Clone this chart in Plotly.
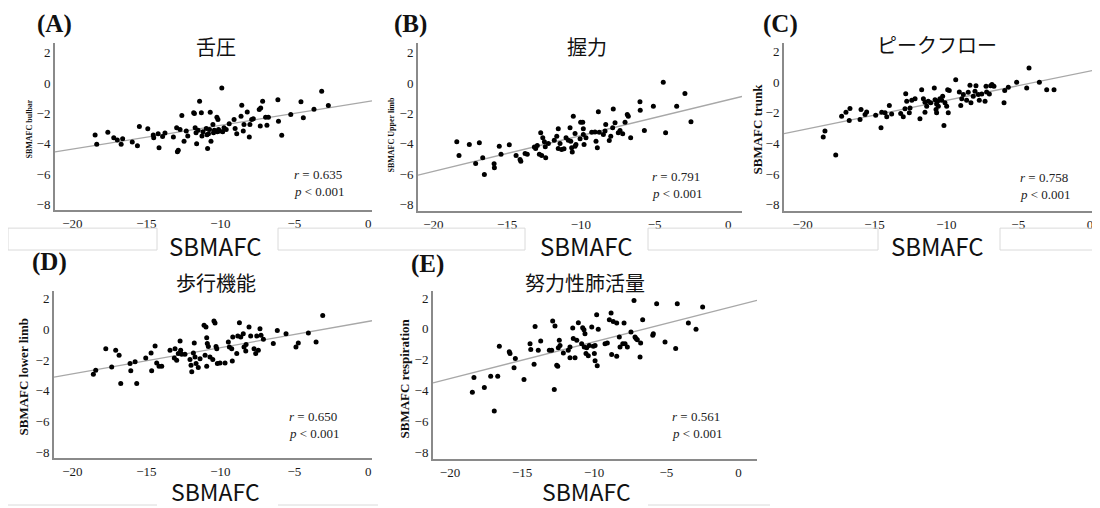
import plotly.graph_objects as go

# page body has an 8px margin; the figure is shrunk/shifted so page pixels match the reference
OFF = 8
W, H = 1100 - OFF, 508 - OFF

# ---------------- data ----------------
A_pts = [(-18.46,-3.42),(-18.35,-4.03),(-17.6,-3.23),(-17.2,-3.6),(-16.96,-3.75),(-16.7,-4.03),
         (-16.6,-3.66),(-15.95,-3.88),(-15.6,-4.12),(-15.47,-2.86),(-14.9,-3.0),(-14.53,-3.42),
         (-14.5,-3.6),(-14.2,-3.33),(-14.14,-4.25),(-13.9,-3.51),(-13.74,-3.29),(-13.17,-3.55),
         (-12.95,-2.94),(-12.9,-4.51),(-12.84,-4.42),(-12.72,-3.05),(-12.6,-2.14),(-12.45,-3.82),
         (-12.3,-3.16),(-12.2,-3.49),(-11.8,-1.96),(-11.75,-2.0),(-11.7,-2.94),(-11.64,-3.27),
         (-11.6,-3.99),(-11.4,-1.2),(-11.28,-1.96),(-11.24,-3.49),(-11.17,-3.2),(-10.95,-2.99),
         (-10.86,-4.31),(-10.8,-3.33),(-10.73,-3.05),(-10.68,-1.92),(-10.63,-3.82),(-10.5,-2.73),
         (-10.46,-3.27),(-10.23,-2.25),(-10.16,-2.4),(-10.12,-3.05),(-10.05,-3.16),(-9.9,-0.33),
         (-9.84,-3.2),(-9.75,-2.94),(-9.4,-2.68),(-9.07,-2.4),(-9.0,-2.99),(-8.89,-3.33),
         (-8.6,-2.18),(-8.55,-1.46),(-8.45,-3.16),(-8.4,-2.73),(-8.18,-1.9),(-8.04,-3.55),
         (-8.0,-2.73),(-7.88,-2.4),(-7.77,-2.35),(-7.37,-1.75),(-7.27,-1.64),(-7.14,-1.2),
         (-7.3,-2.83),(-6.94,-2.25),(-6.85,-2.77),(-6.75,-2.25),(-6.11,-1.11),(-6.07,-2.51),
         (-5.85,-3.44),(-5.24,-2.07),(-4.55,-1.24),(-4.39,-2.29),(-3.67,-1.73),(-3.15,-0.55),
         (-2.7,-1.48),(-10.4,-3.1),(-10.9,-3.4),(-11.5,-3.1),(-9.6,-3.05),(-10.2,-3.2)]

B_pts = [(-18.41,-3.87),(-18.26,-4.77),(-17.56,-4.05),(-16.88,-3.94),(-17.13,-5.3),(-16.65,-4.92),
         (-16.54,-6.02),(-15.88,-5.31),(-15.86,-5.58),(-15.53,-4.16),(-15.41,-4.7),(-14.85,-4.07),
         (-14.39,-4.77),(-14.12,-5.03),(-14.07,-5.16),(-13.78,-4.64),(-13.63,-4.7),(-13.06,-4.31),
         (-12.95,-4.11),(-12.81,-4.7),(-12.72,-3.28),(-12.65,-4.77),(-12.58,-3.61),(-12.47,-3.87),
         (-12.41,-4.2),(-12.38,-4.92),(-12.2,-3.98),(-11.63,-3.5),(-11.53,-3.02),(-11.53,-4.31),
         (-11.41,-3.98),(-11.3,-4.38),(-11.14,-4.33),(-11.0,-3.61),(-10.73,-2.95),(-10.68,-3.83),
         (-10.62,-4.27),(-10.58,-4.55),(-10.51,-2.19),(-10.39,-3.33),(-10.33,-4.05),(-10.05,-3.67),
         (-10.01,-2.58),(-9.87,-2.58),(-9.83,-3.39),(-9.78,-4.05),(-9.65,-3.61),(-9.26,-3.24),
         (-8.97,-3.83),(-8.88,-4.27),(-8.81,-1.9),(-8.75,-3.24),(-8.47,-3.39),(-8.36,-3.17),
         (-8.31,-2.74),(-8.07,-3.79),(-7.97,-3.5),(-7.8,-1.71),(-7.68,-2.62),(-7.46,-3.28),
         (-7.34,-3.13),(-7.16,-3.35),(-7.0,-2.58),(-6.85,-2.08),(-6.78,-2.19),(-6.62,-3.61),
         (-5.99,-1.23),(-5.97,-1.8),(-5.69,-3.13),(-5.08,-1.53),(-4.41,0.04),(-4.25,-3.28),
         (-3.5,-1.53),(-2.94,-0.7),(-2.53,-2.56),(-11.8,-3.77),(-10.85,-3.77),(-10.39,-4.16),
         (-9.83,-3.02),(-9.04,-3.22),(-7.84,-2.95),(-13.15,-4.22)]

C_pts = [(-18.57,-3.58),(-18.45,-3.19),(-17.7,-4.75),(-17.29,-2.22),(-16.99,-1.96),(-16.71,-1.72),
         (-16.76,-2.5),(-16.01,-2.44),(-15.94,-1.79),(-15.66,-2.11),(-15.55,-1.94),(-14.92,-2.15),
         (-14.55,-2.98),(-14.5,-1.96),(-14.27,-2.0),(-14.15,-2.26),(-13.97,-1.53),(-13.81,-2.07),
         (-13.18,-2.05),(-13.0,-2.26),(-12.88,-1.74),(-12.83,-0.75),(-12.76,-1.25),(-12.58,-2.0),
         (-12.53,-1.68),(-12.41,-1.18),(-12.18,-1.09),(-11.84,-2.39),(-11.72,-0.49),(-11.6,-1.09),
         (-11.49,-1.96),(-11.37,-1.57),(-11.26,-1.25),(-11.09,-1.35),(-10.84,-0.38),(-10.79,-1.14),
         (-10.72,-1.79),(-10.68,-2.0),(-10.61,-1.25),(-10.56,-1.57),(-10.45,-1.09),(-10.33,-1.18),
         (-10.26,-0.92),(-10.17,-2.82),(-10.1,-1.35),(-9.98,-1.57),(-9.91,-0.49),(-9.87,-2.0),
         (-9.8,-0.55),(-9.35,0.16),(-9.1,-0.64),(-9.0,-1.53),(-8.93,-1.09),(-8.82,-0.81),
         (-8.59,-1.18),(-8.48,-0.66),(-8.36,-0.21),(-8.29,-1.35),(-8.13,-0.92),(-8.01,-0.6),
         (-7.94,-0.23),(-7.78,-0.81),(-7.71,-1.18),(-7.54,-0.77),(-7.31,-1.25),(-7.24,-0.27),
         (-7.2,-0.64),(-7.01,-0.77),(-6.92,-0.23),(-6.83,-0.16),(-6.69,-0.27),(-5.99,-1.35),
         (-5.94,-0.55),(-5.69,-0.34),(-5.11,-0.01),(-4.41,-0.38),(-4.25,0.92),(-3.53,-0.01),
         (-3.02,-0.49),(-2.51,-0.49),(-10.68,-1.42),(-11.49,-1.31)]

D_pts = [(-18.58,-2.92),(-18.42,-2.66),(-17.74,-1.25),(-17.34,-2.44),(-17.07,-1.36),(-16.84,-1.68),
         (-16.73,-3.52),(-16.1,-2.22),(-16.05,-2.69),(-15.76,-2.11),(-15.65,-3.52),(-15.04,-1.85),
         (-14.68,-1.53),(-14.64,-2.69),(-14.41,-1.07),(-14.3,-2.18),(-14.14,-2.4),(-13.96,-2.4),
         (-13.4,-1.36),(-13.11,-1.85),(-13.06,-1.25),(-12.95,-2.0),(-12.84,-1.57),(-12.72,-0.75),
         (-12.68,-1.36),(-12.61,-1.62),(-12.39,-1.62),(-12.05,-1.96),(-11.98,-2.33),(-11.93,-2.76),
         (-11.82,-1.53),(-11.76,-0.88),(-11.71,-1.79),(-11.64,-2.22),(-11.49,-2.48),(-11.37,-1.9),
         (-11.1,0.27),(-11.03,-1.68),(-10.97,0.16),(-10.92,-0.53),(-10.88,-0.92),(-10.92,-2.4),
         (-10.81,-1.1),(-10.7,-1.79),(-10.51,-1.96),(-10.43,0.55),(-10.36,0.42),(-10.29,-1.1),
         (-10.24,-1.25),(-10.2,-2.22),(-10.02,-2.18),(-9.68,-2.18),(-9.46,-0.81),(-9.39,-1.14),
         (-9.23,-1.25),(-9.19,-2.05),(-9.16,-0.49),(-8.89,-1.57),(-8.82,-0.42),(-8.71,0.44),
         (-8.62,-0.49),(-8.45,-0.27),(-8.4,-1.14),(-8.28,-1.4),(-8.26,-0.97),(-8.06,0.16),
         (-7.95,-0.42),(-7.72,-1.25),(-7.61,-1.57),(-7.54,-0.42),(-7.43,-1.36),(-7.32,0.05),
         (-7.25,-0.38),(-7.09,-0.64),(-6.42,-0.92),(-6.15,-0.06),(-5.56,-0.27),(-4.89,-1.14),
         (-4.73,-0.88),(-4.05,-0.23),(-3.53,-0.81),(-3.08,0.92)]

E_pts = [(-18.45,-4.12),(-18.34,-3.15),(-17.62,-3.8),(-17.18,-3.07),(-16.93,-5.33),(-16.69,-3.07),
         (-16.58,-1.13),(-15.89,-1.49),(-15.84,-1.6),(-15.56,-2.53),(-15.47,-1.93),(-14.87,-3.28),
         (-14.45,-0.96),(-14.4,-1.33),(-14.17,-2.29),(-14.1,0.16),(-13.88,-1.39),(-13.71,-0.78),
         (-13.11,-1.39),(-12.95,-1.39),(-12.88,0.51),(-12.77,-3.93),(-12.72,0.19),(-12.6,-2.36),
         (-12.53,-2.42),(-12.49,-1.22),(-12.42,-0.74),(-12.37,-1.07),(-12.14,-1.56),(-11.8,-1.39),
         (-11.68,-1.88),(-11.68,-1.17),(-11.49,0.06),(-11.45,-0.63),(-11.33,-1.88),(-11.21,-0.74),
         (-11.1,0.4),(-10.87,-0.96),(-10.8,0.08),(-10.71,-0.05),(-10.69,-1.17),(-10.64,-0.31),
         (-10.57,-1.6),(-10.52,-1.23),(-10.41,-1.75),(-10.34,-1.07),(-10.17,0.12),(-10.06,-1.13),
         (-9.99,-1.6),(-9.94,-2.07),(-9.94,-1.07),(-9.83,0.92),(-9.79,-2.4),(-9.72,-0.03),
         (-9.25,-0.96),(-9.09,-0.91),(-8.95,0.59),(-8.83,1.03),(-8.79,-1.67),(-8.68,0.48),
         (-8.44,0.38),(-8.44,-1.78),(-8.26,-0.52),(-8.21,-1.17),(-8.02,-0.96),(-7.93,0.38),
         (-7.86,-0.96),(-7.7,-1.17),(-7.45,-0.2),(-7.24,1.84),(-7.17,-0.52),(-7.1,-0.63),
         (-7.01,-0.7),(-6.82,-1.82),(-6.78,-0.91),(-6.64,0.59),(-5.94,-0.42),(-5.9,-0.31),
         (-5.67,1.63),(-5.09,-0.85),(-4.35,-1.28),(-4.24,1.63),(-3.47,0.38),(-2.94,-0.03),
         (-2.48,1.42)]

panel_points = [A_pts, B_pts, C_pts, D_pts, E_pts]
fit_slope = [0.156, 0.2355, 0.192, 0.171, 0.238]
fit_intercept = [-1.22, -1.11, 0.73, 0.53, 1.54]
r_values = ["0.635", "0.791", "0.758", "0.650", "0.561"]
panel_tags = ["(A)", "(B)", "(C)", "(D)", "(E)"]
panel_titles = ["舌圧", "握力", "ピークフロー", "歩行機能", "努力性肺活量"]
y_titles = ["SBMAFC bulbar", "SBMAFC Upper limb", "SBMAFC trunk",
            "SBMAFC lower limb", "SBMAFC respiration"]
x_title = "SBMAFC"
x_ticks = [-20, -15, -10, -5, 0]
y_ticks = [-8, -6, -4, -2, 0, 2]

# ---------------- layout geometry (page pixels of the reference) ----------------
boxes = [(55, 372, 43, 211), (418, 742, 43, 212), (784, 1100, 43, 212),
         (54, 372, 292, 460), (433, 757, 292, 461)]
xranges = [(-21.17, 0.25), (-21.04, 0.93), (-21.3, 0.69), (-21.24, 0.25), (-21.18, 1.29)]
yranges = [(-8.35, 2.63), (-8.44, 2.64), (-8.41, 2.56), (-8.39, 2.52), (-8.46, 2.47)]

tag_pos = [(54, 24), (410, 24), (780, 24), (49, 263), (427, 265)]
title_pos = [(216, 47), (587, 47), (937, 45), (216, 284), (585, 284)]
ytitle_pos = [(30, 130), (391, 135), (758, 130), (24, 379), (405, 380)]
ytitle_size = [8, 8, 13, 13, 13]
xlabel_pos = [(215, 246), (586, 246), (937, 246), (215, 493), (586, 493)]
xlabel_size = [24, 24, 24, 23, 23]
stat_pos = [(292, 175), (650, 177), (1018, 178), (287, 418), (670, 418)]
STAT_GAP = 17


def fx(p):
    return max(p - OFF, 0) / W


def fy(p):
    return 1 - (p - OFF) / H


fig = go.Figure()
annotations = []
serif = "Liberation Serif"
cjk = "Noto Sans CJK JP"


def note(x, y, text, font, **kw):
    d = dict(x=fx(x), y=fy(y), xref="paper", yref="paper", text=text, showarrow=False,
             xanchor="center", yanchor="middle", font=font)
    d.update(kw)
    annotations.append(d)


for i, pts in enumerate(panel_points):
    n = "" if i == 0 else str(i + 1)
    xs = [p[0] for p in pts]
    ys = [p[1] for p in pts]
    x0, x1 = xranges[i]
    fig.add_trace(go.Scatter(x=[x0, x1],
                             y=[fit_intercept[i] + fit_slope[i] * x0,
                                fit_intercept[i] + fit_slope[i] * x1],
                             mode="lines", xaxis="x" + n, yaxis="y" + n,
                             line=dict(color="#a8a8a8", width=1.3), showlegend=False,
                             hoverinfo="skip"))
    fig.add_trace(go.Scatter(x=xs, y=ys, mode="markers", xaxis="x" + n, yaxis="y" + n,
                             marker=dict(size=5, color="black"), showlegend=False,
                             hoverinfo="skip"))
    l, r, t, b = boxes[i]
    axfont = dict(family=serif, size=13, color="#1a1a1a")
    fig.layout["xaxis" + n] = dict(domain=[fx(l), min(fx(r), 1.0)], range=list(xranges[i]),
                                   anchor="y" + n, showgrid=False, zeroline=False,
                                   showline=True, linecolor="#8a8a8a", linewidth=2,
                                   tickvals=x_ticks, ticks="", tickfont=axfont)
    fig.layout["yaxis" + n] = dict(domain=[fy(b), fy(t)], range=list(yranges[i]),
                                   anchor="x" + n, showgrid=False, zeroline=False,
                                   showline=True, linecolor="#8a8a8a", linewidth=2,
                                   tickvals=y_ticks, ticks="", tickfont=axfont)

    note(*tag_pos[i], "<b>" + panel_tags[i] + "</b>", dict(family=serif, size=25, color="#111"))
    note(*title_pos[i], panel_titles[i], dict(family=cjk, size=20, color="#111"))
    note(*ytitle_pos[i], "<b>" + y_titles[i] + "</b>",
         dict(family=serif, size=ytitle_size[i], color="#111"), textangle=-90)
    note(*xlabel_pos[i], x_title, dict(family=cjk, size=xlabel_size[i], color="#111"))
    sx, sy = stat_pos[i]
    note(sx, sy, "<i>r</i> = " + r_values[i], dict(family=serif, size=13, color="#222"),
         xanchor="left")
    note(sx, sy + STAT_GAP, "<i>p</i> < 0.001", dict(family=serif, size=13, color="#222"),
         xanchor="left")

# faint frame remnants around the x-axis labels
shapes = []
for (a, b) in [(0, 157), (278, 525), (648, 878), (1000, 1100)]:
    shapes.append(dict(type="rect", xref="paper", yref="paper", x0=fx(a), x1=fx(b),
                       y0=fy(251), y1=fy(229), line=dict(color="#dadada", width=1)))
for (a, b) in [(0, 157), (278, 378), (648, 770)]:
    shapes.append(dict(type="line", xref="paper", yref="paper", x0=fx(a), x1=fx(b),
                       y0=fy(507), y1=fy(507), line=dict(color="#dadada", width=1)))

fig.update_layout(width=W, height=H, margin=dict(l=0, r=0, t=0, b=0),
                  paper_bgcolor="white", plot_bgcolor="white", showlegend=False,
                  annotations=annotations, shapes=shapes)

fig.write_html("out.html")
